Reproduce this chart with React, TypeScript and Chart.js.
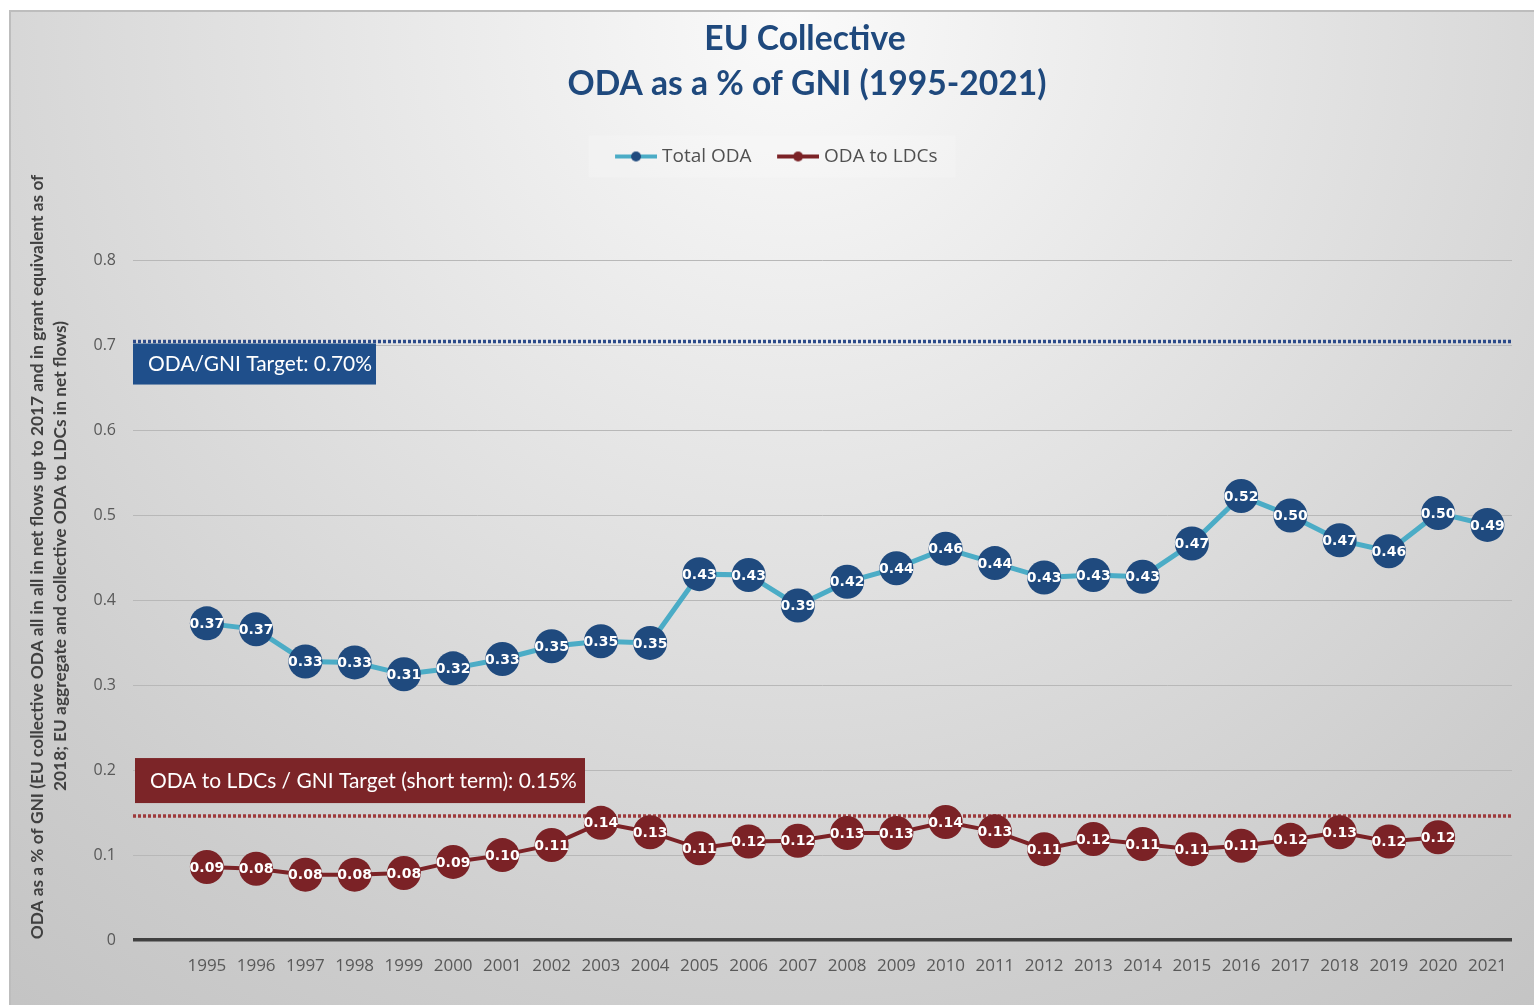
import React, { useEffect, useRef } from 'react';
import { Chart, registerables } from 'chart.js';

Chart.register(...registerables);

const YEARS = [1995, 1996, 1997, 1998, 1999, 2000, 2001, 2002, 2003, 2004, 2005, 2006, 2007, 2008, 2009, 2010, 2011, 2012, 2013, 2014, 2015, 2016, 2017, 2018, 2019, 2020, 2021];
const TOTAL_ODA = [0.373, 0.366, 0.328, 0.327, 0.313, 0.320, 0.331, 0.346, 0.352, 0.350, 0.431, 0.430, 0.394, 0.422, 0.438, 0.461, 0.444, 0.427, 0.430, 0.428, 0.467, 0.523, 0.500, 0.471, 0.458, 0.503, 0.489];
const ODA_LDC = [0.086, 0.084, 0.077, 0.077, 0.079, 0.092, 0.100, 0.112, 0.138, 0.127, 0.108, 0.116, 0.117, 0.126, 0.126, 0.139, 0.128, 0.107, 0.119, 0.113, 0.107, 0.111, 0.118, 0.127, 0.116, 0.121];
const ODA_TARGET = 0.705;
const LDC_TARGET = 0.146;
const X_MIN = 1993.5;
const X_MAX = 2021.5;
const Y_TICK_LABELS = ['0', '0.1', '0.2', '0.3', '0.4', '0.5', '0.6', '0.7', '0.8'];

const TITLE_LINES = ['EU Collective', 'ODA as a % of GNI (1995-2021)'];
const Y_TITLE_LINES = [
  'ODA as a % of GNI (EU collective ODA all in all in net flows up to 2017 and in grant equivalent as of',
  '2018; EU aggregate and collective ODA to LDCs in net flows)',
];
const SERIES_NAMES = ['Total ODA', 'ODA to LDCs'];
const ODA_TARGET_LABEL = 'ODA/GNI Target: 0.70%';
const LDC_TARGET_LABEL = 'ODA to LDCs / GNI Target (short term): 0.15%';

const W = 1534;
const H = 1005;
const BLUE = '#1F4A7E';
const TEAL = '#4BACC6';
const RED = '#7B2226';

function fitSize(ctx: CanvasRenderingContext2D, text: string, weight: string, family: string, width: number) {
  ctx.font = `${weight} 100px ${family}`;
  const w = ctx.measureText(text).width;
  return (100 * width) / w;
}

function legendImage(lineColor: string, dotColor: string) {
  const c = document.createElement('canvas');
  c.width = 69;
  c.height = 14;
  const g = c.getContext('2d')!;
  g.strokeStyle = lineColor;
  g.lineWidth = 4;
  g.beginPath();
  g.moveTo(27, 7);
  g.lineTo(69, 7);
  g.stroke();
  g.fillStyle = dotColor;
  g.beginPath();
  g.arc(48, 7, 5, 0, Math.PI * 2);
  g.fill();
  return c;
}

const backgroundPlugin = {
  id: 'bgFrame',
  beforeDraw(chart: any) {
    const ctx = chart.ctx as CanvasRenderingContext2D;
    ctx.save();
    ctx.fillStyle = '#ffffff';
    ctx.fillRect(0, 0, W, H);
    const grad = ctx.createRadialGradient(790, 20, 0, 790, 20, 1250);
    grad.addColorStop(0, '#fafafa');
    grad.addColorStop(0.6, '#d8d8d8');
    grad.addColorStop(0.8, '#cdcdcd');
    grad.addColorStop(1, '#c4c4c4');
    ctx.fillStyle = grad;
    ctx.fillRect(10, 10, W - 10, H - 10);
    ctx.fillStyle = '#bdbdbd';
    ctx.fillRect(10, 10, W - 10, 2);
    ctx.fillRect(9, 10, 2, H - 10);
    // legend backdrop
    const lg = chart.legend;
    if (lg && lg.legendHitBoxes && lg.legendHitBoxes.length === 2) {
      const a = lg.legendHitBoxes[0];
      const b = lg.legendHitBoxes[1];
      const cy = a.top + a.height / 2;
      ctx.fillStyle = 'rgba(255,255,255,0.18)';
      ctx.fillRect(a.left - 4, cy - 21, b.left + b.width + 22 - a.left, 42);
    }
    // title
    const tSize = fitSize(ctx, TITLE_LINES[1], '700', 'Lato', 479);
    ctx.font = `700 ${tSize}px Lato`;
    ctx.fillStyle = '#1F497D';
    ctx.textAlign = 'center';
    ctx.textBaseline = 'middle';
    ctx.fillText(TITLE_LINES[0], 805, 39);
    ctx.fillText(TITLE_LINES[1], 807, 84);
    // y title
    const ySize = fitSize(ctx, Y_TITLE_LINES[0], '700', 'Lato', 765);
    ctx.font = `700 ${ySize}px Lato`;
    ctx.fillStyle = '#404040';
    ctx.save();
    ctx.translate(37, 557);
    ctx.rotate(-Math.PI / 2);
    ctx.fillText(Y_TITLE_LINES[0], 0, 0);
    ctx.restore();
    ctx.save();
    ctx.translate(60, 556);
    ctx.rotate(-Math.PI / 2);
    ctx.fillText(Y_TITLE_LINES[1], 0, 0);
    ctx.restore();
    ctx.restore();
  },
};

const labelsPlugin = {
  id: 'pointLabels',
  afterDatasetsDraw(chart: any) {
    const ctx = chart.ctx as CanvasRenderingContext2D;
    const area = chart.chartArea;
    const yScale = chart.scales.y;
    ctx.save();
    // target boxes
    const lSize = fitSize(ctx, LDC_TARGET_LABEL, '400', 'Lato', 427);
    const yO = yScale.getPixelForValue(ODA_TARGET);
    ctx.fillStyle = '#1F4F8B';
    ctx.fillRect(area.left, yO + 2, 243, 41);
    const yL = yScale.getPixelForValue(LDC_TARGET);
    ctx.fillStyle = '#7C2528';
    ctx.fillRect(area.left + 2, yL - 58, 450, 45);
    ctx.font = `400 ${lSize}px Lato`;
    ctx.fillStyle = '#ffffff';
    ctx.textAlign = 'left';
    ctx.textBaseline = 'middle';
    ctx.fillText(ODA_TARGET_LABEL, area.left + 15, yO + 2 + 21);
    ctx.fillText(LDC_TARGET_LABEL, area.left + 17, yL - 58 + 23);
    // point labels
    ctx.font = 'bold 14px "DejaVu Sans"';
    ctx.textAlign = 'center';
    ctx.textBaseline = 'middle';
    [0, 1].forEach((di) => {
      const meta = chart.getDatasetMeta(di);
      const vals = di === 0 ? TOTAL_ODA : ODA_LDC;
      meta.data.forEach((pt: any, j: number) => {
        ctx.fillText(vals[j].toFixed(2), pt.x, pt.y + 1);
      });
    });
    ctx.restore();
  },
};

export default function App() {
  const ref = useRef<HTMLCanvasElement | null>(null);
  useEffect(() => {
    if (!ref.current) return;
    const img1 = legendImage(TEAL, BLUE);
    const img2 = legendImage(RED, RED);
    const chart = new Chart(ref.current, {
      type: 'line',
      data: {
        datasets: [
          {
            label: SERIES_NAMES[0],
            data: YEARS.map((yr, i) => ({ x: yr, y: TOTAL_ODA[i] })),
            borderColor: TEAL,
            borderWidth: 5,
            pointRadius: 17,
            pointBackgroundColor: BLUE,
            pointBorderColor: BLUE,
            pointBorderWidth: 0,
            tension: 0,
            order: 1,
          },
          {
            label: SERIES_NAMES[1],
            data: ODA_LDC.map((v, i) => ({ x: YEARS[i], y: v })),
            borderColor: RED,
            borderWidth: 4,
            pointRadius: 17,
            pointBackgroundColor: RED,
            pointBorderColor: RED,
            pointBorderWidth: 0,
            tension: 0,
            order: 2,
          },
          {
            label: 'odaTarget',
            data: [{ x: X_MIN, y: ODA_TARGET }, { x: X_MAX, y: ODA_TARGET }],
            borderColor: '#2B4A8A',
            borderWidth: 3.5,
            borderDash: [3, 2],
            pointRadius: 0,
            order: 10,
          },
          {
            label: 'ldcTarget',
            data: [{ x: X_MIN, y: LDC_TARGET }, { x: X_MAX, y: LDC_TARGET }],
            borderColor: '#9E3A3C',
            borderWidth: 3.5,
            borderDash: [3, 2],
            pointRadius: 0,
            order: 10,
          },
        ],
      },
      options: {
        animation: false,
        responsive: false,
        layout: { padding: { top: 144, left: 18, right: 22, bottom: 30 } },
        plugins: {
          title: { display: false },
          tooltip: { enabled: false },
          legend: {
            display: true,
            position: 'top',
            onClick: () => {},
            labels: {
              usePointStyle: true,
              pointStyleWidth: 60,
              padding: 3,
              color: '#505050',
              font: { family: 'Open Sans', size: 19 },
              generateLabels: () => [
                { text: SERIES_NAMES[0], pointStyle: img1 as any, fillStyle: 'transparent', strokeStyle: 'transparent', lineWidth: 0, hidden: false, datasetIndex: 0, fontColor: '#505050' },
                { text: SERIES_NAMES[1], pointStyle: img2 as any, fillStyle: 'transparent', strokeStyle: 'transparent', lineWidth: 0, hidden: false, datasetIndex: 1, fontColor: '#505050' },
              ],
            },
          },
        },
        scales: {
          x: {
            type: 'linear',
            min: X_MIN,
            max: X_MAX,
            afterBuildTicks: (s: any) => {
              s.ticks = YEARS.map((v) => ({ value: v }));
            },
            afterFit: (s: any) => {
              s.height = 35;
            },
            grid: { display: false, drawTicks: false },
            border: { display: false },
            ticks: {
              padding: 16,
              color: '#595959',
              font: { family: 'Open Sans', size: 17 },
              autoSkip: false,
              maxRotation: 0,
              callback: (v: any) => String(v),
            },
          },
          y: {
            min: 0,
            max: 0.9,
            afterFit: (s: any) => {
              s.width = 115;
            },
            border: { display: false },
            grid: {
              drawTicks: false,
              color: (c: any) => {
                const v = c.tick ? c.tick.value : 0;
                if (Math.abs(v) < 1e-9) return '#404040';
                if (v > 0.85) return 'rgba(0,0,0,0)';
                return '#b8b8b8';
              },
              lineWidth: (c: any) => {
                const v = c.tick ? c.tick.value : 0;
                return Math.abs(v) < 1e-9 ? 3.5 : 1;
              },
            },
            ticks: {
              stepSize: 0.1,
              padding: 17,
              color: '#595959',
              font: { family: 'Open Sans', size: 16 },
              callback: (v: any, i: number) => (i < Y_TICK_LABELS.length ? Y_TICK_LABELS[i] : ''),
            },
          },
        },
      },
      plugins: [backgroundPlugin, labelsPlugin],
    });
    return () => chart.destroy();
  }, []);
  return (
    <div style={{ position: 'fixed', left: 0, top: 0, width: W, height: H }}>
      <canvas ref={ref} width={W} height={H} style={{ width: W, height: H, display: 'block' }} />
    </div>
  );
}
